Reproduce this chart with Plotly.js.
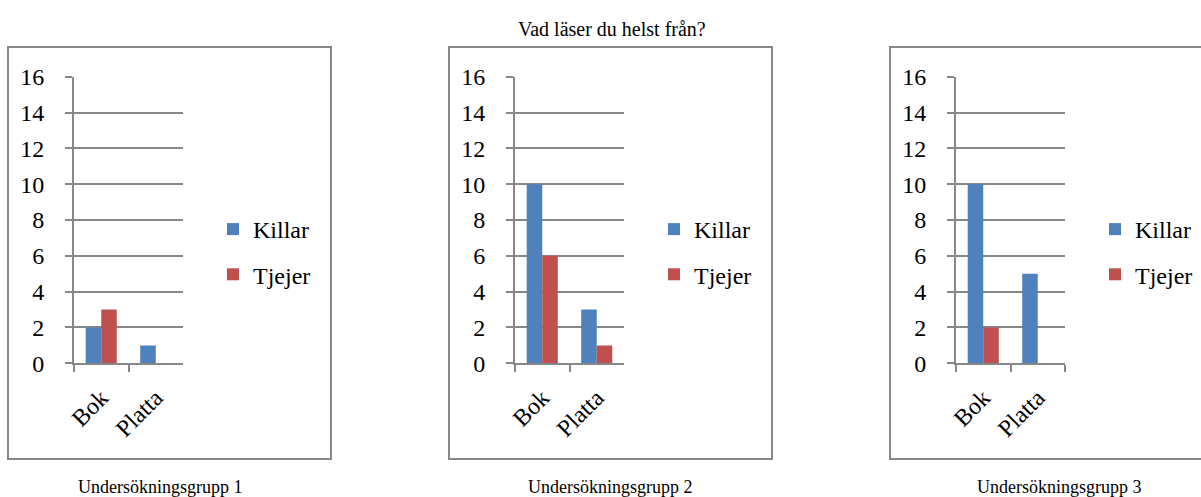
<!DOCTYPE html>
<html>
<head>
<meta charset="utf-8">
<script src="https://cdn.plot.ly/plotly-3.0.1.min.js"></script>
<style>html,body{margin:0;padding:0;background:#fff;}#chart{width:1201px;height:497px;}</style>
</head>
<body>
<div id="chart"></div>
<script>
const chartTitle = "Vad läser du helst från?";
const categories = ["Bok", "Platta"];
const seriesNames = ["Killar", "Tjejer"];
const groupTitles = ["Undersökningsgrupp 1", "Undersökningsgrupp 2", "Undersökningsgrupp 3"];
const killar1 = [2, 1];
const tjejer1 = [3, 0];
const killar2 = [10, 3];
const tjejer2 = [6, 1];
const killar3 = [10, 5];
const tjejer3 = [2, 0];

const W = 1201, H = 497;
const px = v => v / W;
const py = v => 1 - v / H;
const colors = ["#4F81BD", "#C0504D"];
const grey = "#878787";
const FONT = "Times New Roman, Liberation Serif, serif";

const groups = [[killar1, tjejer1], [killar2, tjejer2], [killar3, tjejer3]];
const axisLeft = [74, 515, 956];
const plotW = 109;
const boxes = [[8, 331], [449, 772], [890, 1213]];
const subCenters = [160, 610, 1059];

const data = [];
const layout = {
  width: W, height: H,
  margin: {l: 0, r: 0, t: 0, b: 0},
  paper_bgcolor: "#fff", plot_bgcolor: "#fff",
  font: {family: FONT, color: "#000"},
  barmode: "group", bargap: 0.43, bargroupgap: 0,
  showlegend: true,
  shapes: [], annotations: []
};

groups.forEach((g, i) => {
  const sfx = i === 0 ? "" : String(i + 1);
  const lg = i === 0 ? "legend" : "legend" + (i + 1);
  g.forEach((vals, s) => {
    data.push({
      type: "bar", x: categories, y: vals, name: seriesNames[s],
      xaxis: "x" + sfx, yaxis: "y" + sfx,
      marker: {color: colors[s], line: {width: 0}},
      legend: lg, legendgroup: seriesNames[s] + i, showlegend: true,
      hoverinfo: "x+y+name"
    });
  });
  layout["xaxis" + sfx] = {
    domain: [px(axisLeft[i]), px(axisLeft[i] + plotW)],
    anchor: "y" + sfx, type: "category",
    showline: true, linecolor: grey, linewidth: 2,
    ticks: "outside", tickson: "boundaries", ticklen: 7, tickwidth: 2, tickcolor: grey,
    tickangle: -45, showgrid: false, zeroline: false, ticklabelstandoff: 9,
    tickfont: {family: FONT, size: 24, color: "#000"}
  };
  layout["yaxis" + sfx] = {
    domain: [py(363.3), py(76.7)],
    anchor: "x" + sfx, range: [0, 16], dtick: 2, tick0: 0,
    showline: true, linecolor: grey, linewidth: 2,
    ticks: "outside", ticklen: 7, tickwidth: 2, tickcolor: grey,
    showgrid: true, gridcolor: grey, gridwidth: 2, zeroline: false, ticklabelstandoff: 16,
    tickfont: {family: FONT, size: 24, color: "#000"}
  };
  layout[lg] = {
    x: px(axisLeft[i] + 139), xanchor: "left",
    y: py(252), yanchor: "middle",
    font: {family: FONT, size: 24, color: "#000"},
    bgcolor: "rgba(0,0,0,0)", borderwidth: 0,
    traceorder: "grouped", tracegroupgap: 11, itemwidth: 30
  };
  layout.shapes.push({
    type: "rect", xref: "paper", yref: "paper",
    x0: px(boxes[i][0]), x1: px(boxes[i][1]), y0: py(459), y1: py(47),
    line: {color: grey, width: 2}, fillcolor: "rgba(0,0,0,0)", layer: "below"
  });
  layout.annotations.push({
    text: groupTitles[i], xref: "paper", yref: "paper",
    x: px(subCenters[i]), y: py(487), xanchor: "center", yanchor: "middle",
    showarrow: false, font: {family: FONT, size: 18, color: "#000"}
  });
});

layout.annotations.push({
  text: chartTitle, xref: "paper", yref: "paper",
  x: px(612), y: py(29), xanchor: "center", yanchor: "middle",
  showarrow: false, font: {family: FONT, size: 20, color: "#000"}
});

Plotly.newPlot("chart", data, layout, {displayModeBar: false, staticPlot: true});
</script>
</body>
</html>
